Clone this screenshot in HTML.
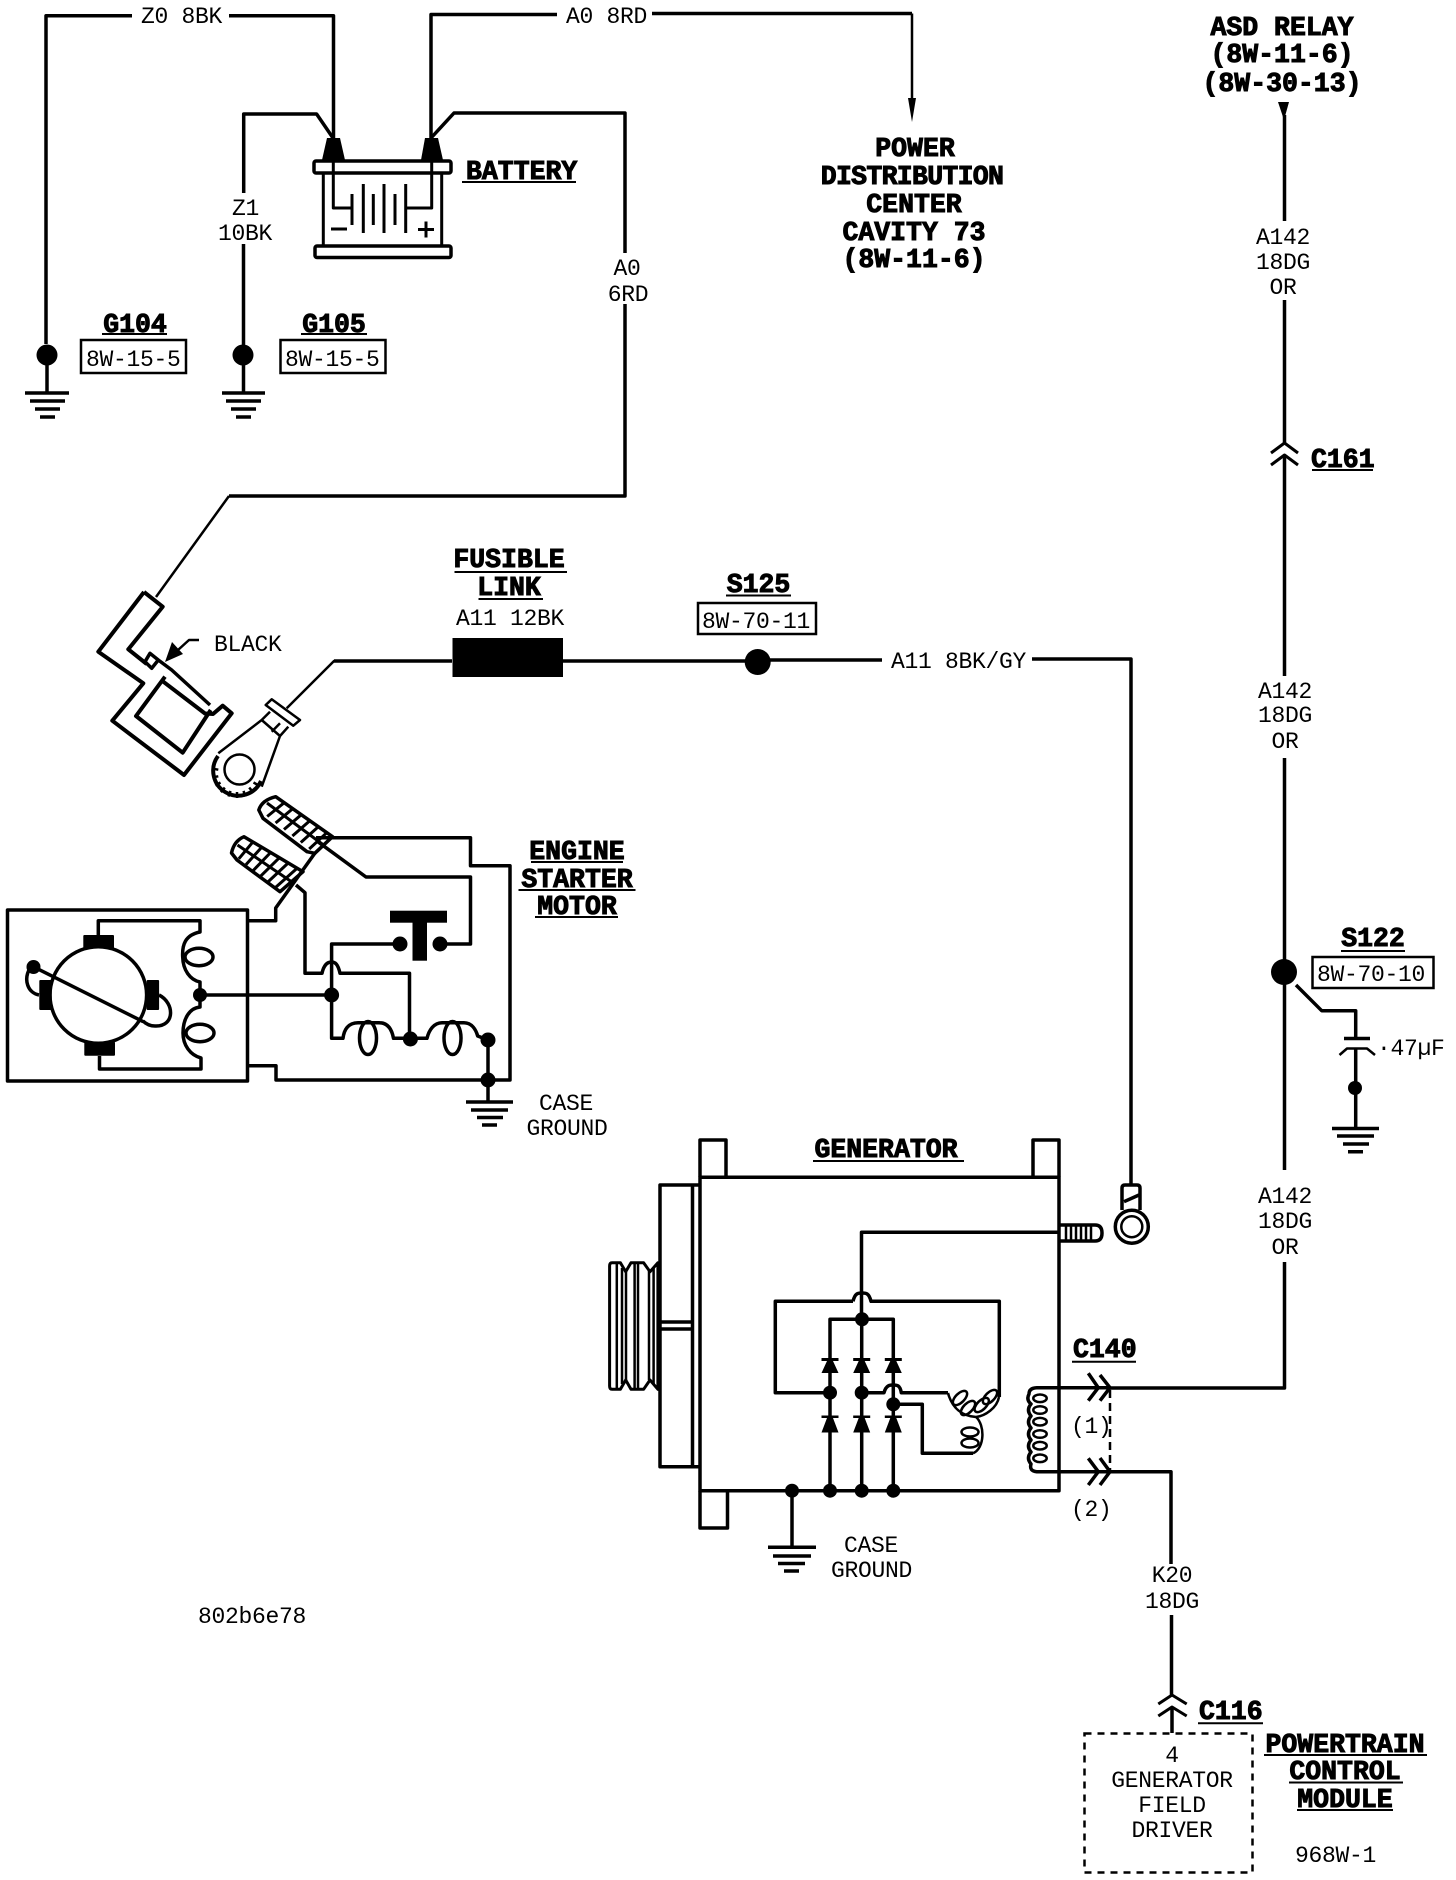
<!DOCTYPE html>
<html><head><meta charset="utf-8"><style>
html,body{margin:0;padding:0;background:#fff;width:1456px;height:1880px;overflow:hidden}
svg{display:block;position:absolute;left:0;top:0}
text{font-family:"Liberation Mono",monospace;fill:#000}
.t{font-size:23px;letter-spacing:-.3px}
.b{font-size:26.5px;font-weight:bold;stroke:#000;stroke-width:1px}
.m{text-anchor:middle}
.w{fill:none;stroke:#000;stroke-width:3.5;stroke-linejoin:round}
.n{fill:none;stroke:#000;stroke-width:2.5;stroke-linejoin:round}
.k{fill:#000;stroke:none}
.u{stroke:#000;stroke-width:2}
</style></head><body>
<svg width="1456" height="1880" viewBox="0 0 1456 1880" xmlns="http://www.w3.org/2000/svg">
<!-- top wires -->
<path class="w" d="M46,344V15.7H132M229,15.7H333.5V140"/>
<path class="w" d="M431,138V14.5H557M652,13.5H912"/>
<path class="n" d="M912,13.5V110"/>
<path class="k" d="M908,98H916L912,122Z"/>
<path class="w" d="M243.7,193V114H316.6L333,138"/>
<path class="w" d="M243.5,244V393"/>
<path class="w" d="M431,138L454,113H625V253M625,304V496H229"/>
<path class="n" d="M229,496L156,597"/>
<text class="t" x="141" y="23">Z0 8BK</text>
<text class="t" x="566" y="23">A0 8RD</text>
<text class="t m" x="245.5" y="215">Z1</text>
<text class="t m" x="245" y="240">10BK</text>
<text class="t m" x="627" y="275">A0</text>
<text class="t m" x="628" y="301">6RD</text>
<!-- grounds top -->
<circle class="k" cx="47" cy="355" r="10.5"/><circle class="k" cx="243" cy="355" r="10.5"/>
<path class="w" d="M47,355V393"/>
<path class="w" d="M25,393H69M30,401H65M35,409H60M40,417H55"/>
<path class="w" d="M222,393H265M226,401H261M231,409H256M236,417H251"/>
<text class="b m" x="135" y="332">G104</text><path class="u" d="M102,334H167"/>
<rect x="81" y="340" width="105" height="33" fill="none" stroke="#000" stroke-width="2.5"/>
<text class="t" x="86" y="366">8W-15-5</text>
<text class="b m" x="334" y="332">G105</text><path class="u" d="M301,334H367"/>
<rect x="280.5" y="340" width="105" height="33" fill="none" stroke="#000" stroke-width="2.5"/>
<text class="t" x="285" y="366">8W-15-5</text>
<!-- battery -->
<path class="k" d="M327,138H340L345,160H322Z"/><path class="k" d="M425,138H438L443,160H421Z"/>
<rect class="w" x="314" y="161" width="137" height="12" rx="2"/>
<rect class="w" x="315" y="246" width="136" height="11.5" rx="2"/>
<path class="w" style="stroke-width:3" d="M323.3,173V246M441.7,173V246"/>
<path class="w" style="stroke-width:3" d="M333.3,160V208H352M405.7,208H431.7V160"/>
<path class="w" style="stroke-width:3" d="M352,194V225M363.3,184V233M373.3,194V225M384,184V233M395,194V225M405.7,184V233M331,229H347M418,229.5H434M426,221.5V237.5"/>
<text class="b" x="466" y="179">BATTERY</text><path class="u" d="M462,182H576"/>
<!-- PDC -->
<text class="b m" x="915" y="156">POWER</text>
<text class="b m" x="912" y="184" style="letter-spacing:-.7px">DISTRIBUTION</text>
<text class="b m" x="914" y="212">CENTER</text>
<text class="b m" x="914" y="240">CAVITY 73</text>
<text class="b m" x="914" y="267">(8W-11-6)</text>
<!-- ASD -->
<text class="b m" x="1282" y="35">ASD RELAY</text>
<text class="b m" x="1282" y="62">(8W-11-6)</text>
<text class="b m" x="1282" y="91">(8W-30-13)</text>
<path class="k" d="M1278,102H1289L1284,120Z"/>
<path class="w" d="M1284.5,115V221M1284.5,300V443"/>
<text class="t m" x="1283" y="244">A142</text><text class="t m" x="1283" y="269">18DG</text><text class="t m" x="1283" y="294">OR</text>
<path class="w" style="stroke-width:3" d="M1271,453L1284.5,443L1298,453M1271,465L1284.5,455L1298,465"/>
<path class="w" d="M1284.5,455V676M1284.5,758V962M1284.5,980V1170M1284.5,1262V1388H1110"/>
<text class="b" x="1311" y="467">C161</text><path class="u" d="M1312,470H1373"/>
<text class="t m" x="1285" y="698">A142</text><text class="t m" x="1285" y="722">18DG</text><text class="t m" x="1285" y="748">OR</text>
<text class="t m" x="1285" y="1203">A142</text><text class="t m" x="1285" y="1228">18DG</text><text class="t m" x="1285" y="1254">OR</text>
<circle class="k" cx="1284" cy="972" r="13"/>
<text class="b m" x="1373" y="946">S122</text><path class="u" d="M1341,951H1405"/>
<rect x="1312.5" y="957" width="121" height="31" fill="none" stroke="#000" stroke-width="2.5"/>
<text class="t" x="1317" y="981">8W-70-10</text>
<path class="w" d="M1296,985L1321.7,1010.7H1355.7V1037M1355.7,1048V1128"/>
<path class="w" d="M1344,1038.5H1370"/><path class="n" d="M1339.5,1055L1347,1048.5H1367L1375,1055"/>
<circle class="k" cx="1355" cy="1088" r="7"/>
<path class="w" d="M1332,1128.5H1379M1337,1136H1374M1343,1144H1369M1348,1151.7H1363"/>
<text class="t" x="1377" y="1055">·47µF</text>
<!-- fork terminal -->
<path class="w" style="stroke-width:4" d="M144,592L98.3,651.7L143.3,683.3L112.3,720.7L184,775L231.7,713.3L222.7,705.7L213,714L205,713.5L163.3,681.7"/>
<path class="w" style="stroke-width:4" d="M144,592L162.7,606.7L128.3,649.3L146.7,664"/>
<path class="w" style="stroke-width:3.5" d="M150,653.3L158.3,660L151.7,668.3L145,661.7ZM158.3,660L171.7,670L210,705"/>
<path class="w" style="stroke-width:4" d="M165,676.7L136,716L182.7,752.7L210.7,710"/>
<path class="n" d="M199,640H189L178,650"/><path class="k" d="M165,662L172,642L183,654Z"/>
<text class="t" x="214" y="651">BLACK</text>
<!-- ring terminal -->
<path class="n" d="M286.7,708.3L334,661H452M563,661H745"/>
<path class="w" d="M334,661H452M563,661H745M770,660H882M1032,659H1131V1185"/>
<path class="n" d="M271.7,699.3L300,720L293.3,725.7L265.7,705ZM261.7,720L270,711.7M280,736L288.3,726.7M261.7,720L280,736M280,723.3L271.7,731.7M261.7,720L218.3,753.3M280,736L261.7,786.7"/>
<path class="w" style="stroke-width:4" d="M218,756A25,25 0 1 0 261,781"/>
<path class="n" d="M212.4,768.7L218.3,769.7M212.4,777.3L218.3,776.3M215.4,785.5L220.5,782.5M220.9,792.2L224.8,787.6M228.5,796.5L230.5,790.9M237,798V792M245.5,796.5L243.5,790.9M253.1,792.2L249.2,787.6M258.7,785.5L253.5,782.5"/>
<circle class="n" cx="239.5" cy="769.5" r="15"/>
<!-- fusible -->
<rect class="k" x="452.5" y="638" width="110.5" height="39"/>
<text class="b m" x="509" y="567">FUSIBLE</text><path class="u" d="M454.5,572H567"/>
<text class="b m" x="509" y="595">LINK</text><path class="u" d="M478.5,599H543"/>
<text class="t" x="456" y="625">A11 12BK</text>
<text class="b m" x="758.5" y="592">S125</text><path class="u" d="M726,595.5H791"/>
<rect x="698" y="603" width="118" height="31" fill="none" stroke="#000" stroke-width="2.5"/>
<text class="t" x="702" y="628">8W-70-11</text>
<circle class="k" cx="757.7" cy="662" r="13"/>
<text class="t" x="891" y="668">A11 8BK/GY</text>
<!-- starter terminals -->
<path class="w" d="M275.7,796.7L332.5,836.7L314.8,853.3L307,851.7L263,818.3L258.8,810Q262,800 275.7,796.7Z"/>
<path class="w" style="stroke-width:3" d="M284.2,802.7L267.2,816.5M292.7,808.7L275.6,823M301.3,814.7L284,829.5M309.8,820.7L292.4,836M318.3,826.7L300.8,842.5M326.8,832.7L309.2,849M267,803L323.5,845"/>
<path class="w" d="M244,836.7L303,871.7L280,891.7L237,860L231.5,853Q234,841 244,836.7Z"/>
<path class="w" style="stroke-width:3" d="M252.9,841.9L238.8,858.8M261.7,847.2L246,864.6M270.6,852.5L253.3,870.4M279.4,857.7L260.6,876.2M288.3,862.9L267.9,882M297.1,868.2L275.2,887.8M237.5,845L291.5,881.7"/>
<path class="w" d="M248,920.7H275.7V908L315,853"/>
<path class="w" d="M316,837.7H470.5V865.7H510V1080H276V1065.7H248"/>
<path class="w" d="M317.8,841.7L366,877H470.5V944H440"/>
<path class="w" d="M296,885L305,892.7V973.3H322C324,964 328,962 331.6,962C335,962 338,964 340,973.3H409.5V1039"/>
<circle class="k" cx="440" cy="944" r="7.5"/><circle class="k" cx="400" cy="944" r="7.5"/>
<rect class="k" x="390" y="910.7" width="57" height="12"/><rect class="k" x="412.5" y="922" width="14.5" height="38.7"/>
<path class="w" d="M400,944H331.6V1038.3H343C344,1030 348,1022.7 358,1022.7H379C388,1022.7 392,1030 393.5,1038.3H427C429,1030 434,1022.7 442,1022.7H464C472,1022.7 476,1030 477.7,1036L488,1040V1102"/>
<ellipse class="w" cx="368" cy="1038" rx="8.5" ry="16.5"/><ellipse class="w" cx="452.5" cy="1038" rx="8.5" ry="16.5"/>
<circle class="k" cx="331.6" cy="995" r="7.5"/><circle class="k" cx="410.4" cy="1039" r="7.5"/><circle class="k" cx="488" cy="1040" r="7.5"/><circle class="k" cx="488" cy="1080" r="7.5"/>
<path class="w" d="M200,995H331.6"/>
<path class="w" d="M466,1102H513M471,1110H508M477,1117.5H503M482,1125H497"/>
<text class="t m" x="566" y="1110">CASE</text><text class="t m" x="567" y="1135">GROUND</text>
<text class="b m" x="577" y="859">ENGINE</text><path class="u" d="M531,862H623"/>
<text class="b m" x="577" y="887">STARTER</text><path class="u" d="M518.5,890H635.5"/>
<text class="b m" x="577" y="914">MOTOR</text><path class="u" d="M535,917H618"/>
<!-- motor -->
<rect class="w" x="7.5" y="910" width="240" height="171"/>
<circle class="w" cx="98.3" cy="995" r="48.3"/>
<rect class="k" x="83.3" y="935" width="30.7" height="13.3" rx="1"/><rect class="k" x="84.3" y="1041.7" width="30.7" height="14" rx="1"/>
<rect class="k" x="39.3" y="980" width="12.4" height="30" rx="1"/><rect class="k" x="146.7" y="980" width="12.4" height="30" rx="1"/>
<path class="w" d="M33.3,966.7L143.3,1021.7"/>
<circle class="k" cx="33.5" cy="967" r="7"/>
<path class="w" d="M30,968C23,980 28,993 39,995M159,995C175,1003 175,1027 155,1026C150,1026 146,1024 143,1021"/>
<path class="w" d="M98.3,935V920.7H200V932C185,935 182,945 182.7,957C183,970 190,980 200,982V995V1007C190,1008 183,1018 183,1033C183,1045 190,1055 201,1058V1069H99.5V1056"/>
<ellipse class="w" cx="199" cy="957" rx="14" ry="8.7"/><ellipse class="w" cx="200" cy="1033" rx="14" ry="8.7"/>
<circle class="k" cx="200" cy="995" r="7"/>
<!-- generator -->
<rect class="w" x="700" y="1177.3" width="359" height="313.4"/>
<path class="w" d="M700,1177V1140H726V1177M1033,1177V1140H1059V1177M700,1491V1528H727.5V1491"/>
<path class="w" d="M699,1185H660V1466.7H699M692.5,1185V1466.7M660,1322H692.5M660,1329H692.5"/>
<path class="w" style="stroke-width:3" d="M657.9,1262.7L650,1271.7L643.6,1262.7H631L625.7,1271.7L620.4,1262.7H612Q609.6,1262.7 609.6,1266V1386Q609.6,1389.3 612,1389.3H620.4L625.7,1380L631,1389.3H643.6L650,1380L657.9,1389.3Z"/>
<path class="n" d="M616.8,1263V1389M622,1268V1384M626,1272V1380M634.6,1263V1389M638,1263V1389M649,1271V1380M653.6,1267V1384"/>
<path class="w" d="M1059,1232.3H861.5V1320"/>
<path class="w" d="M853,1301.3H775.3V1392.7H830M853,1301.3C855,1293 858,1293 862,1293C866,1293 869,1293 871,1301.3H999.3V1397"/>
<path class="w" d="M830,1491V1319.3H893.3V1491M861.7,1319.3V1491"/>
<path class="w" d="M861.7,1392.7H884C886,1385 890,1385 893,1385C897,1385 900,1385 901.3,1392.7H948"/>
<path class="w" d="M893.3,1404.3H922.3V1453.3H973"/>
<path class="k" d="M821.5,1358H838.5V1361H833L838.5,1373H821.5L827,1361H821.5ZM853.2,1358H870.2V1361H864.7L870.2,1373H853.2L858.7,1361H853.2ZM884.8,1358H901.8V1361H896.3L901.8,1373H884.8L890.3,1361H884.8Z"/>
<path class="k" d="M821.5,1415.5H838.5V1418H833L838.5,1432.5H821.5L827,1418H821.5ZM853.2,1415.5H870.2V1418H864.7L870.2,1432.5H853.2L858.7,1418H853.2ZM884.8,1415.5H901.8V1418H896.3L901.8,1432.5H884.8L890.3,1418H884.8Z"/>
<g class="k"><circle cx="862" cy="1319.3" r="7"/><circle cx="830" cy="1392.7" r="7"/><circle cx="861.7" cy="1392.7" r="7"/><circle cx="893.3" cy="1404.3" r="7"/><circle cx="792" cy="1490.7" r="7"/><circle cx="830" cy="1490.7" r="7"/><circle cx="861.7" cy="1490.7" r="7"/><circle cx="893.3" cy="1490.7" r="7"/></g>
<path class="w" d="M792,1491V1547M768,1547.3H816M773,1556H811M778,1563.5H805M784,1571H799"/>
<path class="n" d="M948,1393C952,1408 962,1416 976,1417C985,1416 997,1408 999,1397M976,1417C985,1425 985,1448 973,1453.3"/>
<g fill="none" stroke="#000" stroke-width="2.5"><ellipse cx="960" cy="1398" rx="9" ry="4.5" transform="rotate(-45 960 1398)"/><ellipse cx="968" cy="1408" rx="9" ry="4.5" transform="rotate(-45 968 1408)"/><ellipse cx="981.7" cy="1405" rx="9" ry="4.5" transform="rotate(-45 981.7 1405)"/><ellipse cx="990" cy="1397" rx="9" ry="4.5" transform="rotate(-45 990 1397)"/><ellipse cx="970" cy="1432" rx="8.5" ry="4.5"/><ellipse cx="970" cy="1443" rx="8.5" ry="4.5"/>
<ellipse cx="1040" cy="1398.3" rx="6.7" ry="3.8"/><ellipse cx="1040" cy="1410" rx="6.7" ry="3.8"/><ellipse cx="1040" cy="1421.7" rx="6.7" ry="3.8"/><ellipse cx="1040" cy="1434" rx="6.7" ry="3.8"/><ellipse cx="1040" cy="1445.7" rx="6.7" ry="3.8"/><ellipse cx="1040" cy="1458.3" rx="6.7" ry="3.8"/></g>
<path class="w" d="M1110,1387.7H1036.7Q1029,1388 1029,1394Q1026,1400 1031,1404Q1026,1410 1031,1416Q1026,1422 1031,1428Q1026,1434 1031,1440Q1026,1446 1031,1452Q1026,1458 1031,1464Q1029,1471 1036.7,1471.7H1110H1171V1564"/>
<path class="w" d="M1088.3,1373.3L1098.3,1387.7L1088.3,1400.7M1100,1375L1110,1387.7L1100,1400.7M1088.3,1458.3L1098.3,1471.7L1088.3,1485M1100,1458L1110,1471.7L1100,1485"/>
<path d="M1110,1390V1470" stroke="#000" stroke-width="2.5" stroke-dasharray="8 5" fill="none"/>
<text class="b" x="1073" y="1357">C140</text><path class="u" d="M1072,1361.7H1136"/>
<text class="t" x="1071" y="1433">(1)</text><text class="t" x="1071" y="1516">(2)</text>
<path class="w" d="M1060,1225H1095Q1102,1225 1102,1233Q1102,1241 1095,1241H1060"/>
<path class="n" d="M1066,1225V1241M1071,1225V1241M1076,1225V1241M1081,1225V1241M1086,1225V1241M1091,1225V1241"/>
<path class="w" d="M1122,1210V1188Q1122,1185 1125,1185H1137Q1140,1185 1140,1188V1210"/>
<path class="w" d="M1124,1201.7L1139,1195"/>
<circle class="w" cx="1131.8" cy="1226.7" r="16.5"/><circle class="n" cx="1131.8" cy="1226.7" r="10.5"/>
<text class="b m" x="886" y="1157">GENERATOR</text><path class="u" d="M813,1161H964"/>
<text class="t m" x="871" y="1552">CASE</text><text class="t m" x="871.5" y="1577">GROUND</text>
<text class="t" x="198" y="1623">802b6e78</text>
<!-- K20 / PCM -->
<text class="t m" x="1172" y="1582">K20</text><text class="t m" x="1172" y="1608">18DG</text>
<path class="w" d="M1171.5,1615V1695M1172,1707V1733"/>
<path class="w" style="stroke-width:3" d="M1158.3,1704L1172,1695L1186.7,1704M1158.3,1716L1172,1707L1186.7,1716"/>
<text class="b" x="1199" y="1719">C116</text><path class="u" d="M1198,1723.3H1263"/>
<rect x="1084.5" y="1733.5" width="168" height="139" fill="none" stroke="#000" stroke-width="2.5" stroke-dasharray="7 6"/>
<text class="t m" x="1172" y="1762">4</text><text class="t m" x="1172" y="1787">GENERATOR</text><text class="t m" x="1172" y="1812">FIELD</text><text class="t m" x="1172" y="1837">DRIVER</text>
<text class="b m" x="1345" y="1752">POWERTRAIN</text><path class="u" d="M1264,1755H1427"/>
<text class="b m" x="1345" y="1779">CONTROL</text><path class="u" d="M1289,1782.5H1403"/>
<text class="b m" x="1345" y="1807">MODULE</text><path class="u" d="M1297,1810H1393"/>
<text class="t" x="1295" y="1862">968W-1</text>
</svg>
</body></html>
